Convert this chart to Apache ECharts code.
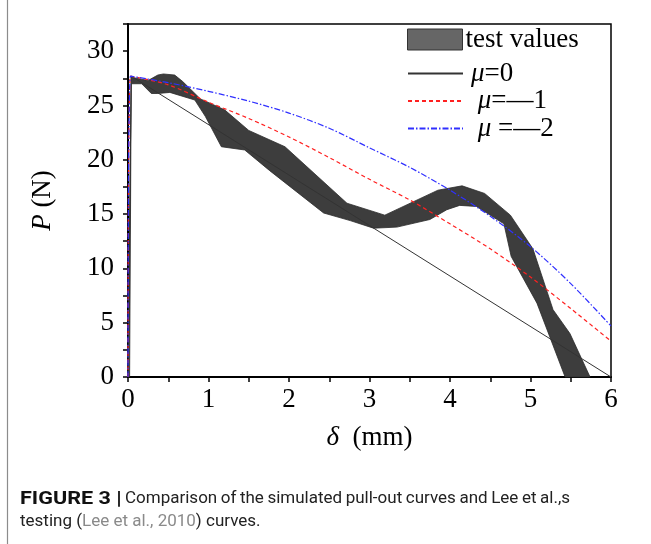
<!DOCTYPE html>
<html>
<head>
<meta charset="utf-8">
<script src="https://cdn.jsdelivr.net/npm/echarts@6/dist/echarts.min.js"></script>
<style>
html, body { margin: 0; padding: 0; background: #fff; }
#chart { width: 651px; height: 544px; }
</style>
</head>
<body>
<div id="chart"></div>
<script>
// axis ticks
const xTicks = [0, 1, 2, 3, 4, 5, 6];
const yTicks = [0, 5, 10, 15, 20, 25, 30];
const yTop = 32.5;

// test values band: upper and lower edges [delta, P]
const bandUpper = [[0, 0], [0.04, 27.6], [0.25, 27.3], [0.37, 27.8], [0.44, 27.9], [0.58, 27.8], [0.68, 27.2],
    [0.9, 25.6], [1.2, 24.6], [1.5, 22.7], [1.95, 21.2], [2.72, 16.0], [3.19, 14.9], [3.85, 17.2], [4.15, 17.6],
    [4.43, 16.9], [4.75, 14.9], [5.03, 11.8], [5.28, 6.2], [5.49, 4.0], [5.74, 0]];
const bandLower = [[0.02, 0], [0.04, 27.0], [0.17, 27.0], [0.29, 26.1], [0.37, 26.1], [0.52, 26.2], [0.83, 25.5],
    [0.96, 24.0], [1.16, 21.2], [1.45, 20.9], [1.76, 19.0], [2.43, 15.1], [2.76, 14.4], [3.05, 13.7], [3.34, 13.8],
    [3.75, 14.5], [3.96, 15.4], [4.12, 15.8], [4.33, 15.7], [4.67, 14.1], [4.76, 11.1], [5.08, 6.8], [5.43, 0]];

// simulated curves
const mu0 = [[0, 0], [0.04, 27.7], [6, 0]];
const mu1 = [[0, 0], [0.03, 27.7], [0.5, 26.9], [1, 25.3], [1.5, 23.8], [2, 22.1], [2.5, 20.2], [3, 18.2],
    [3.5, 16.3], [4, 14.1], [4.5, 11.8], [5, 9.2], [5.5, 6.3], [6, 3.3]];
const mu2 = [[0, 0], [0.03, 27.7], [0.5, 27.1], [1, 26.3], [1.5, 25.4], [2, 24.3], [2.5, 22.9], [3, 21.1],
    [3.5, 19.3], [4, 17.2], [4.5, 14.8], [5, 12.0], [5.5, 8.6], [6, 4.7]];

// caption
const captionBold = 'FIGURE 3 |';
const captionLine1 = 'Comparison of the simulated pull-out curves and Lee et al.,s';
const captionLine2 = 'testing ({g|Lee et al., 2010}) curves.';

const serif = 'Liberation Serif';
const capFont = 'Roboto';
const capSize = 17;

// justify first caption line between x0 and x1
const measureCtx = document.createElement('canvas').getContext('2d');
measureCtx.font = capSize + 'px ' + capFont;
function justifyLine(text, x0, x1, y) {
    let words = text.split(' ');
    let widths = words.map(w => measureCtx.measureText(w).width);
    let total = widths.reduce((a, b) => a + b, 0);
    let gap = Math.max(3, (x1 - x0 - total) / (words.length - 1));
    let x = x0;
    return words.map((w, i) => {
        let el = {
            type: 'text', x: x, y: y,
            style: { text: w, fontFamily: capFont, fontSize: capSize, fill: '#222', align: 'left', verticalAlign: 'middle' }
        };
        x += widths[i] + gap;
        return el;
    });
}

let mychart = echarts.init(document.getElementById('chart'));

let option = {
    animation: false,
    backgroundColor: '#fff',
    grid: {
        left: 128, right: 40, top: 24, bottom: 167,
        show: true, borderColor: '#000', borderWidth: 1.5
    },
    legend: [
        {
            data: [{ name: 'test values', icon: 'rect', itemStyle: { color: '#666', borderColor: '#333', borderWidth: 1 } }],
            left: 407, top: 26, padding: 0,
            itemWidth: 55, itemHeight: 21,
            textStyle: { fontFamily: serif, fontSize: 27, color: '#000', padding: [0, 0, 0, -2] }
        },
        {
            data: ['mu0', 'mu1', 'mu2'].map(n => ({
                name: n,
                itemStyle: { color: 'rgba(0,0,0,0)', borderWidth: 0, opacity: 0 }
            })),
            orient: 'vertical',
            left: 407, top: 60, padding: 0,
            itemWidth: 55, itemHeight: 14, itemGap: 0.5,
            formatter: function (name) {
                if (name === 'mu0') return '{i|μ}=0';
                if (name === 'mu1') return ' {i|μ}=—1';
                return ' {i|μ} =—2';
            },
            textStyle: {
                fontFamily: serif, fontSize: 27, color: '#000', lineHeight: 25, padding: [0, 0, 0, 3],
                rich: { i: { fontFamily: serif, fontStyle: 'italic', fontSize: 27 } }
            }
        }
    ],
    xAxis: {
        type: 'value',
        min: xTicks[0], max: xTicks[xTicks.length - 1], interval: xTicks[1] - xTicks[0],
        name: '{i|δ}  (mm)',
        nameLocation: 'middle', nameGap: 47,
        nameTextStyle: {
            fontFamily: serif, fontSize: 27, color: '#000',
            rich: { i: { fontFamily: serif, fontStyle: 'italic', fontSize: 27 } }
        },
        axisLine: { onZero: false, lineStyle: { color: '#000', width: 2 } },
        axisTick: { show: true, inside: false, length: 5, lineStyle: { color: '#000', width: 1.5 } },
        minorTick: { show: true, splitNumber: 2, length: 5, lineStyle: { color: '#000', width: 1.5 } },
        axisLabel: { fontFamily: serif, fontSize: 27, color: '#000', margin: 9 },
        splitLine: { show: false }
    },
    yAxis: {
        type: 'value',
        min: yTicks[0], max: yTop, interval: yTicks[1] - yTicks[0],
        name: '{i|P} (N)',
        nameLocation: 'middle', nameGap: 72,
        nameTextStyle: {
            fontFamily: serif, fontSize: 27, color: '#000',
            rich: { i: { fontFamily: serif, fontStyle: 'italic', fontSize: 27 } }
        },
        axisLine: { onZero: false, lineStyle: { color: '#000', width: 2 } },
        axisTick: { show: true, inside: false, length: 5, lineStyle: { color: '#000', width: 1.5 } },
        minorTick: { show: true, splitNumber: 2, length: 5, lineStyle: { color: '#000', width: 1.5 } },
        axisLabel: {
            fontFamily: serif, fontSize: 27, color: '#000', margin: 14,
            showMaxLabel: false,
            formatter: function (v) { return yTicks.indexOf(v) >= 0 ? String(v) : ''; }
        },
        splitLine: { show: false }
    },
    graphic: [
        { type: 'line', shape: { x1: 7.5, y1: 0, x2: 7.5, y2: 544 }, style: { stroke: '#8c8c8c', lineWidth: 1.2 } },
        {
            type: 'text', x: 20, y: 499, scaleX: 1.2,
            style: {
                text: captionBold, fontFamily: capFont, fontWeight: 'bold', fontSize: 18,
                fill: '#111', align: 'left', verticalAlign: 'middle'
            }
        },
        ...justifyLine(captionLine1, 125, 570, 499),
        {
            type: 'text', x: 20, y: 522,
            style: {
                text: captionLine2, fontFamily: capFont, fontSize: capSize, fill: '#222',
                align: 'left', verticalAlign: 'middle',
                rich: { g: { fontFamily: capFont, fontSize: capSize, fill: '#8a8a8a' } }
            }
        }
    ],
    series: [
        {
            name: 'test values',
            type: 'custom',
            data: [[0, 0]],
            itemStyle: { color: '#666', borderColor: '#333' },
            renderItem: function (params, api) {
                let pts = bandUpper.map(p => api.coord(p))
                    .concat(bandLower.slice().reverse().map(p => api.coord(p)));
                return {
                    type: 'polygon',
                    shape: { points: pts },
                    style: { fill: '#3d3d3d', stroke: '#2b2b2b', lineWidth: 0.8 }
                };
            },
            z: 1
        },
        {
            name: 'mu0', type: 'line', data: mu0, symbol: 'none', z: 3,
            lineStyle: { color: '#333', width: 1 }, itemStyle: { color: '#333' }
        },
        {
            name: 'mu1', type: 'line', data: mu1, symbol: 'none', smooth: 0.3, z: 3,
            lineStyle: { color: '#ff2020', width: 1.2, type: [4, 3] }, itemStyle: { color: '#ff2020' }
        },
        {
            name: 'mu2', type: 'line', data: mu2, symbol: 'none', smooth: 0.3, z: 3,
            lineStyle: { color: '#3030ff', width: 1.2, type: [6, 2, 1.5, 2] }, itemStyle: { color: '#3030ff' }
        }
    ]
};
mychart.setOption(option);
window.addEventListener('resize', () => {
    mychart.resize();
});
</script>
</body>
</html>
